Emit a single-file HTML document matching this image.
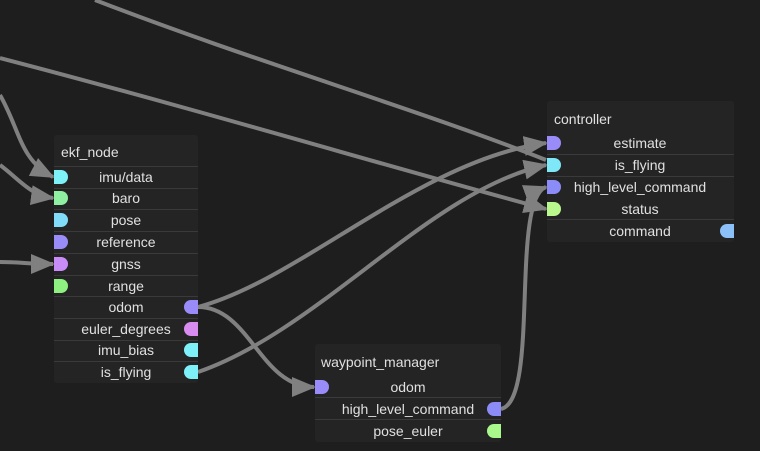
<!DOCTYPE html>
<html><head><style>
html,body{margin:0;padding:0;background:#1e1e1e;width:760px;height:451px;overflow:hidden;font-family:"Liberation Sans",sans-serif}
svg{position:absolute;left:0;top:0}
</style></head><body>
<svg width="760" height="451" viewBox="0 0 760 451">
<defs>
<marker id="a" markerWidth="6" markerHeight="5" refX="5.5" refY="2.5" orient="auto" markerUnits="strokeWidth">
<path d="M0,0 L6,2.5 L0,5 z" fill="#808080"/></marker>
</defs>
<rect width="760" height="451" fill="#1e1e1e"/>
<g fill="none" stroke="#808080" stroke-width="4">
<path d="M95,0 C250,60 420,110 546,160"/>
<path d="M0,58 C200,110 400,170 546,209" marker-end="url(#a)"/>
<path d="M198,307 C300,280 420,160 546,143" marker-end="url(#a)"/>
<path d="M198,372 C320,330 430,190 546,165" marker-end="url(#a)"/>
<path d="M501,409 C540,400 510,200 546,187" marker-end="url(#a)"/>
<path d="M198,307 C250,307 260,387 314,387" marker-end="url(#a)"/>
<path d="M0,95 C20,130 20,160 53,177" marker-end="url(#a)"/>
<path d="M0,165 C20,180 30,195 53,198" marker-end="url(#a)"/>
<path d="M0,262 C20,262 30,264 53,264" marker-end="url(#a)"/>
</g>
<g font-size="14" fill="#e0e0e0" text-anchor="middle">
<rect x="54" y="135" width="144" height="248" rx="3" fill="#242424"/>
<text x="61" y="157" text-anchor="start">ekf_node</text>
<g stroke="#3a3a3a" stroke-width="1">
<line x1="54" y1="166.5" x2="198" y2="166.5"/><line x1="54" y1="188.5" x2="198" y2="188.5"/><line x1="54" y1="209.5" x2="198" y2="209.5"/><line x1="54" y1="231.5" x2="198" y2="231.5"/><line x1="54" y1="253.5" x2="198" y2="253.5"/><line x1="54" y1="275.5" x2="198" y2="275.5"/><line x1="54" y1="296.5" x2="198" y2="296.5"/><line x1="54" y1="318.5" x2="198" y2="318.5"/><line x1="54" y1="340.5" x2="198" y2="340.5"/><line x1="54" y1="361.5" x2="198" y2="361.5"/>
</g>
<text x="126" y="182">imu/data</text><text x="126" y="203">baro</text><text x="126" y="225">pose</text><text x="126" y="247">reference</text><text x="126" y="269">gnss</text><text x="126" y="291">range</text><text x="126" y="312">odom</text><text x="126" y="334">euler_degrees</text><text x="126" y="355">imu_bias</text><text x="126" y="377">is_flying</text>
<rect x="547" y="101" width="187" height="141" rx="3" fill="#242424"/>
<text x="554" y="124" text-anchor="start">controller</text>
<g stroke="#3a3a3a"><line x1="547" y1="154.5" x2="734" y2="154.5"/><line x1="547" y1="176.5" x2="734" y2="176.5"/><line x1="547" y1="219.5" x2="734" y2="219.5"/></g>
<text x="640" y="148">estimate</text><text x="640" y="170">is_flying</text><text x="640" y="192">high_level_command</text><text x="640" y="214">status</text><text x="640" y="236">command</text>
<rect x="315" y="344" width="186" height="98" rx="3" fill="#242424"/>
<text x="321" y="367" text-anchor="start">waypoint_manager</text>
<g stroke="#3a3a3a"><line x1="315" y1="397.5" x2="501" y2="397.5"/><line x1="315" y1="419.5" x2="501" y2="419.5"/></g>
<text x="408" y="392">odom</text><text x="408" y="414">high_level_command</text><text x="408" y="436">pose_euler</text>
</g>
<g>
<path d="M54,170 h7 a7,7 0 0 1 0,14 h-7z" fill="#7ef0f8"/>
<path d="M54,191 h7 a7,7 0 0 1 0,14 h-7z" fill="#8ef0a0"/>
<path d="M54,213 h7 a7,7 0 0 1 0,14 h-7z" fill="#80dcf8"/>
<path d="M54,235 h7 a7,7 0 0 1 0,14 h-7z" fill="#9a8cf8"/>
<path d="M54,257 h7 a7,7 0 0 1 0,14 h-7z" fill="#c88cf8"/>
<path d="M54,279 h7 a7,7 0 0 1 0,14 h-7z" fill="#8ef080"/>
<path d="M198,300 h-7 a7,7 0 0 0 0,14 h7z" fill="#9a8cf8"/>
<path d="M198,322 h-7 a7,7 0 0 0 0,14 h7z" fill="#d88cf0"/>
<path d="M198,343 h-7 a7,7 0 0 0 0,14 h7z" fill="#7ef0f8"/>
<path d="M198,365 h-7 a7,7 0 0 0 0,14 h7z" fill="#7ef0f8"/>
<path d="M547,136 h7 a7,7 0 0 1 0,14 h-7z" fill="#9a8cf8"/>
<path d="M547,158 h7 a7,7 0 0 1 0,14 h-7z" fill="#7ee8f8"/>
<path d="M547,180 h7 a7,7 0 0 1 0,14 h-7z" fill="#8c8cf8"/>
<path d="M547,202 h7 a7,7 0 0 1 0,14 h-7z" fill="#b8f88c"/>
<path d="M734,224 h-7 a7,7 0 0 0 0,14 h7z" fill="#8cc0f8"/>
<path d="M315,380 h7 a7,7 0 0 1 0,14 h-7z" fill="#9a8cf8"/>
<path d="M501,402 h-7 a7,7 0 0 0 0,14 h7z" fill="#8c8cf8"/>
<path d="M501,424 h-7 a7,7 0 0 0 0,14 h7z" fill="#a8f88c"/>
</g>
</svg>
</body></html>
